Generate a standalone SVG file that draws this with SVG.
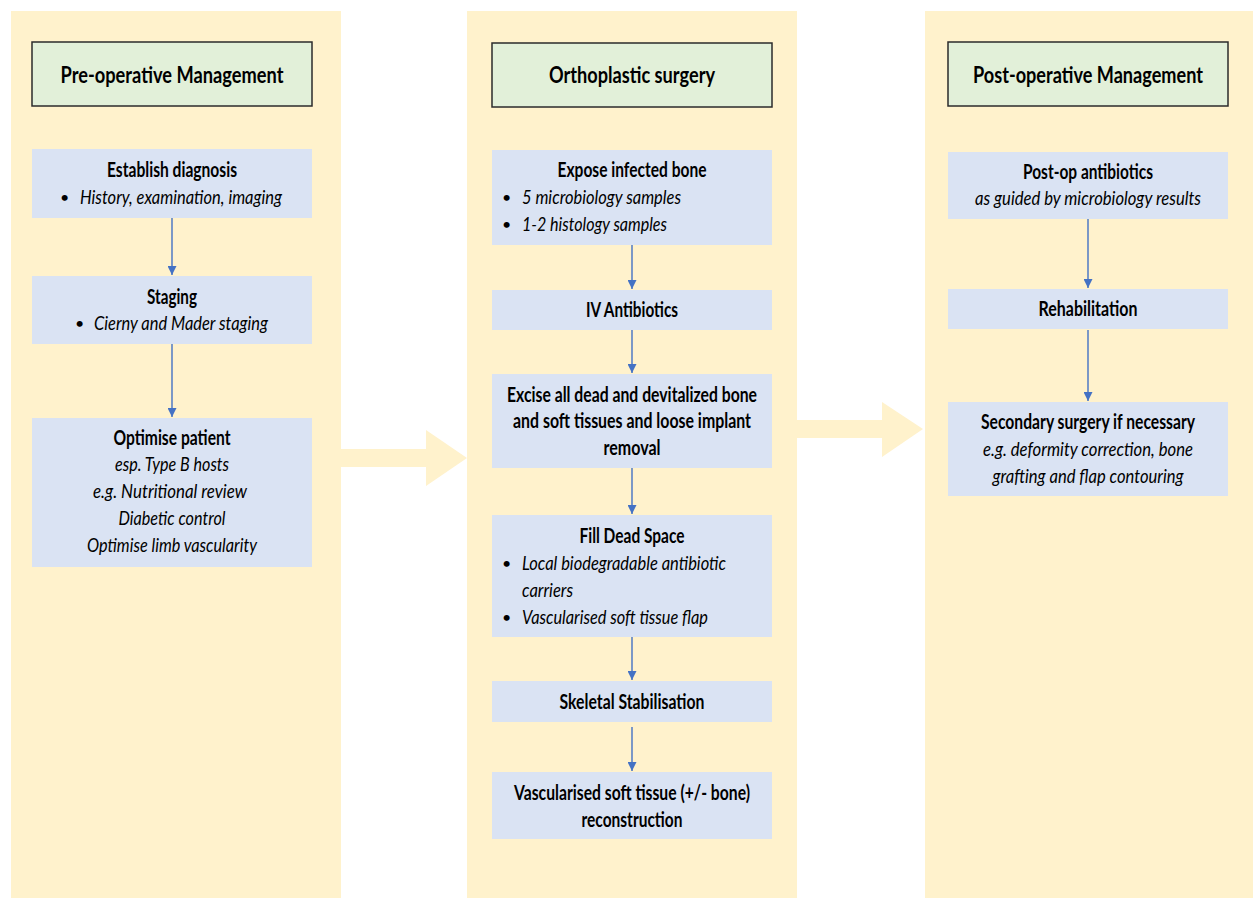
<svg xmlns="http://www.w3.org/2000/svg" width="1253" height="898" viewBox="0 0 1253 898">
<defs>
<style>
.panel{fill:#FFF2CC}
.big{fill:#FFF2CC}
.hdr{fill:#E2F0D9;stroke:#2b2b2b;stroke-width:1.5}
.box{fill:#DAE3F3}
text{font-family:Lato,"Liberation Sans",sans-serif;fill:#000}
.h{font-size:23.5px;font-weight:bold;text-anchor:middle}
.t{font-size:20px;font-weight:bold;text-anchor:middle}
.i{font-size:20px;font-style:italic}
.ic{font-size:20px;font-style:italic;text-anchor:middle}
.b{font-size:16px}
.c{stroke:#4472C4;stroke-width:1.4;fill:none;marker-end:url(#ah)}
</style>
<marker id="ah" viewBox="0 0 10 10" refX="10" refY="5" markerWidth="10" markerHeight="9" markerUnits="userSpaceOnUse" orient="auto">
<path d="M0,0 L10,5 L0,10 z" fill="#4472C4"/>
</marker>
</defs>
<rect width="1253" height="898" fill="#fff"/>
<g id="panels">
<rect class="panel" x="11" y="11" width="330" height="887"/>
<rect class="panel" x="467" y="11" width="330" height="887"/>
<rect class="panel" x="925" y="11" width="328" height="887"/>
</g>
<g id="phase-arrows">
<path class="big" d="M341,449 L426,449 L426,430 L467,458 L426,486 L426,467 L341,467 z"/>
<path class="big" d="M797,420 L882,420 L882,402 L923,429 L882,457 L882,438 L797,438 z"/>
</g>
<g id="connectors">
<line class="c" x1="172" y1="218" x2="172" y2="275"/>
<line class="c" x1="172" y1="344" x2="172" y2="417"/>
<line class="c" x1="632" y1="245" x2="632" y2="289"/>
<line class="c" x1="632" y1="330" x2="632" y2="373"/>
<line class="c" x1="632" y1="468" x2="632" y2="514"/>
<line class="c" x1="632" y1="637" x2="632" y2="680"/>
<line class="c" x1="632" y1="727" x2="632" y2="771"/>
<line class="c" x1="1088" y1="219" x2="1088" y2="288"/>
<line class="c" x1="1088" y1="330" x2="1088" y2="401"/>
</g>
<g id="hdr-pre">
<rect class="hdr" x="32" y="42" width="280" height="64"/>
<text class="h" x="172" y="83" textLength="223" lengthAdjust="spacingAndGlyphs">Pre-operative Management</text>
</g>
<g id="hdr-ortho">
<rect class="hdr" x="492" y="43" width="280" height="64"/>
<text class="h" x="632" y="83" textLength="166" lengthAdjust="spacingAndGlyphs">Orthoplastic surgery</text>
</g>
<g id="hdr-post">
<rect class="hdr" x="948" y="42" width="280" height="64"/>
<text class="h" x="1088" y="83" textLength="230" lengthAdjust="spacingAndGlyphs">Post-operative Management</text>
</g>
<g id="n-diagnosis">
<rect class="box" x="32" y="149" width="280" height="69"/>
<text class="t" x="172" y="177" textLength="130" lengthAdjust="spacingAndGlyphs">Establish diagnosis</text>
<text class="b" x="60" y="203">•</text>
<text class="i" x="80" y="204" textLength="202" lengthAdjust="spacingAndGlyphs">History, examination, imaging</text>
</g>
<g id="n-staging">
<rect class="box" x="32" y="276" width="280" height="68"/>
<text class="t" x="172" y="304" textLength="50" lengthAdjust="spacingAndGlyphs">Staging</text>
<text class="b" x="75" y="329">•</text>
<text class="i" x="94" y="330" textLength="174" lengthAdjust="spacingAndGlyphs">Cierny and Mader staging</text>
</g>
<g id="n-optimise">
<rect class="box" x="32" y="418" width="280" height="149"/>
<text class="t" x="172" y="445" textLength="117" lengthAdjust="spacingAndGlyphs">Optimise patient</text>
<text class="ic" x="172" y="471" textLength="114" lengthAdjust="spacingAndGlyphs">esp. Type B hosts</text>
<text class="ic" x="170" y="498" textLength="154" lengthAdjust="spacingAndGlyphs">e.g. Nutritional review</text>
<text class="ic" x="172" y="525" textLength="107" lengthAdjust="spacingAndGlyphs">Diabetic control</text>
<text class="ic" x="172" y="552" textLength="170" lengthAdjust="spacingAndGlyphs">Optimise limb vascularity</text>
</g>
<g id="n-expose">
<rect class="box" x="492" y="150" width="280" height="95"/>
<text class="t" x="632" y="177" textLength="149" lengthAdjust="spacingAndGlyphs">Expose infected bone</text>
<text class="b" x="502" y="203">•</text>
<text class="i" x="522" y="204" textLength="159" lengthAdjust="spacingAndGlyphs">5 microbiology samples</text>
<text class="b" x="502" y="230">•</text>
<text class="i" x="522" y="231" textLength="145" lengthAdjust="spacingAndGlyphs">1-2 histology samples</text>
</g>
<g id="n-iv">
<rect class="box" x="492" y="290" width="280" height="40"/>
<text class="t" x="632" y="317" textLength="92" lengthAdjust="spacingAndGlyphs">IV Antibiotics</text>
</g>
<g id="n-excise">
<rect class="box" x="492" y="374" width="280" height="94"/>
<text class="t" x="632" y="402" textLength="250" lengthAdjust="spacingAndGlyphs">Excise all dead and devitalized bone</text>
<text class="t" x="632" y="428" textLength="238" lengthAdjust="spacingAndGlyphs">and soft tissues and loose implant</text>
<text class="t" x="632" y="455" textLength="57" lengthAdjust="spacingAndGlyphs">removal</text>
</g>
<g id="n-fill">
<rect class="box" x="492" y="515" width="280" height="122"/>
<text class="t" x="632" y="543" textLength="105" lengthAdjust="spacingAndGlyphs">Fill Dead Space</text>
<text class="b" x="502" y="569">•</text>
<text class="i" x="522" y="570" textLength="204" lengthAdjust="spacingAndGlyphs">Local biodegradable antibiotic</text>
<text class="i" x="522" y="597" textLength="51" lengthAdjust="spacingAndGlyphs">carriers</text>
<text class="b" x="502" y="623">•</text>
<text class="i" x="522" y="624" textLength="186" lengthAdjust="spacingAndGlyphs">Vascularised soft tissue flap</text>
</g>
<g id="n-skeletal">
<rect class="box" x="492" y="681" width="280" height="41"/>
<text class="t" x="632" y="709" textLength="145" lengthAdjust="spacingAndGlyphs">Skeletal Stabilisation</text>
</g>
<g id="n-vasc">
<rect class="box" x="492" y="772" width="280" height="67"/>
<text class="t" x="632" y="800" textLength="236" lengthAdjust="spacingAndGlyphs">Vascularised soft tissue (+/- bone)</text>
<text class="t" x="632" y="827" textLength="101" lengthAdjust="spacingAndGlyphs">reconstruction</text>
</g>
<g id="n-postop">
<rect class="box" x="948" y="152" width="280" height="67"/>
<text class="t" x="1088" y="179" textLength="130" lengthAdjust="spacingAndGlyphs">Post-op antibiotics</text>
<text class="ic" x="1088" y="205" textLength="226" lengthAdjust="spacingAndGlyphs">as guided by microbiology results</text>
</g>
<g id="n-rehab">
<rect class="box" x="948" y="289" width="280" height="40"/>
<text class="t" x="1088" y="316" textLength="99" lengthAdjust="spacingAndGlyphs">Rehabilitation</text>
</g>
<g id="n-secondary">
<rect class="box" x="948" y="402" width="280" height="94"/>
<text class="t" x="1088" y="429" textLength="214" lengthAdjust="spacingAndGlyphs">Secondary surgery if necessary</text>
<text class="ic" x="1088" y="456" textLength="210" lengthAdjust="spacingAndGlyphs">e.g. deformity correction, bone</text>
<text class="ic" x="1088" y="483" textLength="191" lengthAdjust="spacingAndGlyphs">grafting and flap contouring</text>
</g>
</svg>
